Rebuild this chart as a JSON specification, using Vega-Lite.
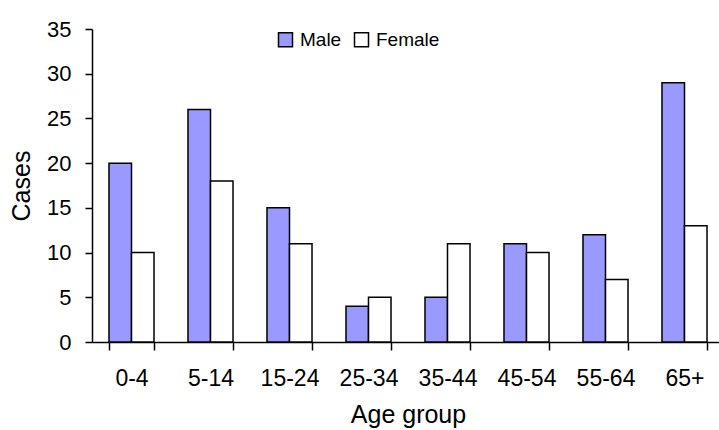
{
  "$schema": "https://vega.github.io/schema/vega-lite/v6.json",
  "width": 632,
  "height": 313,
  "autosize": {"type": "none"},
  "padding": {"left": 92, "top": 29, "right": 0, "bottom": 88},
  "background": "white",
  "config": {
    "view": {"stroke": null},
    "font": "Liberation Sans",
    "axis": {"grid": false, "domainColor": "black", "tickColor": "black", "labelColor": "black", "titleColor": "black", "titleFontWeight": "normal", "domainWidth": 1.5, "tickWidth": 1.5}
  },
  "data": {
    "values": [
      {"age": "0-4", "sex": "Male", "cases": 20},
      {"age": "0-4", "sex": "Female", "cases": 10},
      {"age": "5-14", "sex": "Male", "cases": 26},
      {"age": "5-14", "sex": "Female", "cases": 18},
      {"age": "15-24", "sex": "Male", "cases": 15},
      {"age": "15-24", "sex": "Female", "cases": 11},
      {"age": "25-34", "sex": "Male", "cases": 4},
      {"age": "25-34", "sex": "Female", "cases": 5},
      {"age": "35-44", "sex": "Male", "cases": 5},
      {"age": "35-44", "sex": "Female", "cases": 11},
      {"age": "45-54", "sex": "Male", "cases": 11},
      {"age": "45-54", "sex": "Female", "cases": 10},
      {"age": "55-64", "sex": "Male", "cases": 12},
      {"age": "55-64", "sex": "Female", "cases": 7},
      {"age": "65+", "sex": "Male", "cases": 29},
      {"age": "65+", "sex": "Female", "cases": 13}
    ]
  },
  "mark": {"type": "bar", "stroke": "black", "strokeWidth": 1.5},
  "encoding": {
    "x": {
      "field": "age", "type": "nominal", "sort": null,
      "scale": {"paddingInner": 0.43, "paddingOuter": 0.215},
      "axis": {"title": "Age group", "labelAngle": 0, "labelFontSize": 23, "titleFontSize": 25, "tickBand": "extent", "tickSize": 8, "labelPadding": 17, "titlePadding": 12}
    },
    "xOffset": {"field": "sex", "type": "nominal", "sort": ["Male", "Female"], "scale": {"paddingInner": 0, "paddingOuter": 0}},
    "y": {
      "field": "cases", "type": "quantitative",
      "scale": {"domain": [0, 35], "nice": false},
      "axis": {"title": "Cases", "values": [0, 5, 10, 15, 20, 25, 30, 35], "labelFontSize": 22, "titleFontSize": 25, "tickSize": 7, "labelPadding": 14, "titlePadding": 12}
    },
    "fill": {
      "field": "sex", "type": "nominal", "sort": ["Male", "Female"],
      "scale": {"domain": ["Male", "Female"], "range": ["#9999ff", "#ffffff"]},
      "legend": {"title": null, "orient": "none", "legendX": 184, "legendY": 1, "direction": "horizontal", "symbolType": "square", "symbolSize": 196, "symbolStrokeColor": "black", "symbolStrokeWidth": 1.5, "labelFontSize": 19, "labelColor": "black", "columnPadding": 9, "labelOffset": 5}
    }
  }
}
